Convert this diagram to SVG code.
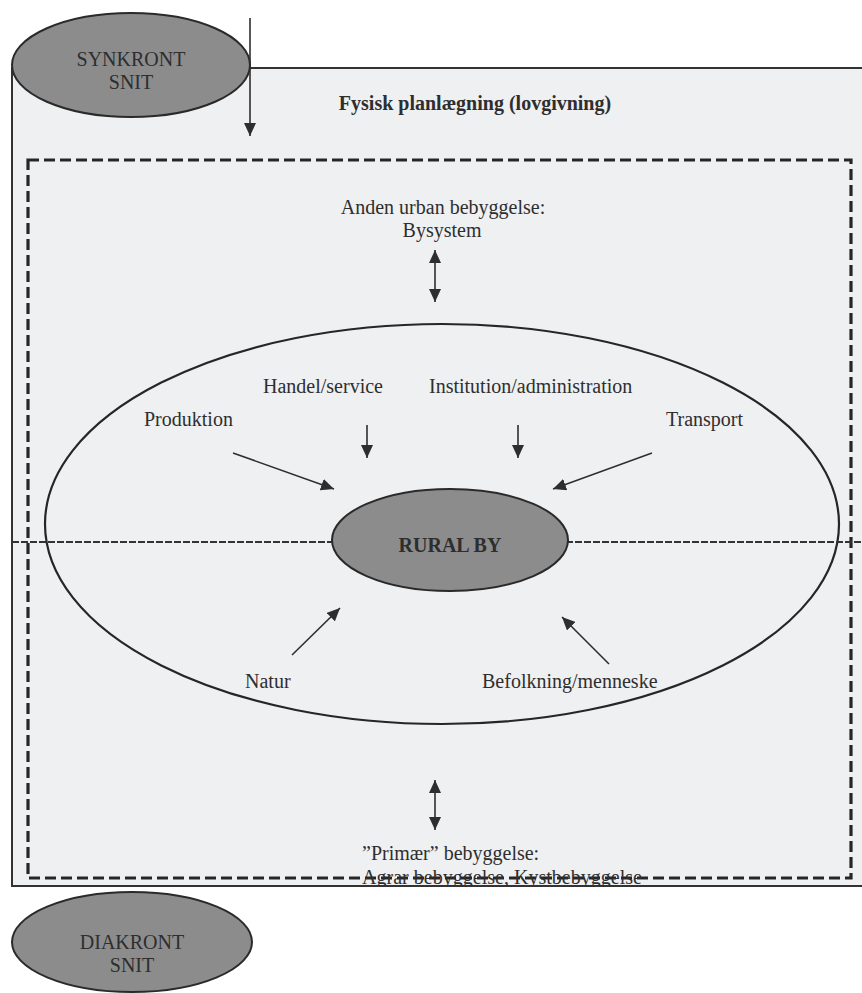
<svg xmlns="http://www.w3.org/2000/svg" width="862" height="993" viewBox="0 0 862 993">
<style>
text{font-family:"Liberation Serif","Times New Roman",serif;font-size:20px;fill:#2e2e2e}
.b{font-weight:bold}
.c{text-anchor:middle}
.arr{stroke:#2e2e2e;stroke-width:1.6;fill:none;marker-end:url(#ah)}
.dbl{stroke:#2e2e2e;stroke-width:1.6;fill:none;marker-end:url(#ah);marker-start:url(#ah)}
.dark{fill:#8c8c8c;stroke:#2a2a2a;stroke-width:2}
</style>
<defs>
<marker id="ah" markerUnits="userSpaceOnUse" markerWidth="14" markerHeight="12" refX="13" refY="6" orient="auto-start-reverse">
<path d="M0,0 L13,6 L0,12 z" fill="#2e2e2e"/>
</marker>
<clipPath id="boxclip"><rect x="0" y="0" width="862" height="886"/></clipPath>
</defs>
<rect width="862" height="993" fill="#ffffff"/>
<g id="frame">
<rect x="12" y="68" width="860" height="818" fill="#eff0f2" stroke="#333" stroke-width="2"/>
<text class="b" x="475" y="110" text-anchor="middle">Fysisk planlægning (lovgivning)</text>
</g>
<g id="dashedbox">
<rect x="28" y="160" width="823" height="718" fill="none" stroke="#262626" stroke-width="3.2" stroke-dasharray="11 5"/>
</g>
<g id="outer-ellipse">
<ellipse cx="442" cy="524" rx="397" ry="200" fill="none" stroke="#262626" stroke-width="2.2"/>
</g>
<g id="axis">
<line x1="12" y1="542" x2="335" y2="542" stroke="#333" stroke-width="1.8" stroke-dasharray="7 2"/>
<line x1="566" y1="542" x2="862" y2="542" stroke="#333" stroke-width="1.8" stroke-dasharray="7 2"/>
</g>
<g id="synkront">
<ellipse class="dark" cx="131" cy="65" rx="119" ry="52"/>
<text class="c" x="131" y="66">SYNKRONT</text>
<text class="c" x="131" y="89">SNIT</text>
</g>
<g id="diakront">
<ellipse class="dark" cx="132" cy="942" rx="120" ry="50"/>
<text class="c" x="132" y="949">DIAKRONT</text>
<text class="c" x="132" y="972">SNIT</text>
</g>
<g id="rural-by">
<ellipse class="dark" cx="450" cy="540" rx="118" ry="51"/>
<text class="b c" x="450" y="552">RURAL BY</text>
</g>
<g id="anden-urban">
<text class="c" x="443" y="214">Anden urban bebyggelse:</text>
<text class="c" x="442" y="237">Bysystem</text>
</g>
<g id="primaer">
<text x="362" y="860">”Primær” bebyggelse:</text>
<text x="362" y="884" clip-path="url(#boxclip)" textLength="280">Agrar bebyggelse, Kystbebyggelse</text>
</g>
<g id="handel"><text x="263" y="393">Handel/service</text></g>
<g id="institution"><text x="429" y="393">Institution/administration</text></g>
<g id="produktion"><text x="144" y="426">Produktion</text></g>
<g id="transport"><text x="666" y="426">Transport</text></g>
<g id="natur"><text x="245" y="688">Natur</text></g>
<g id="befolkning"><text x="482" y="688">Befolkning/menneske</text></g>
<g id="connectors">
<line class="arr" x1="250" y1="18" x2="250" y2="136"/>
<line class="dbl" x1="435" y1="250" x2="435" y2="302"/>
<line class="dbl" x1="435" y1="780" x2="435" y2="830"/>
<line class="arr" x1="367" y1="425" x2="367" y2="458"/>
<line class="arr" x1="518" y1="425" x2="518" y2="458"/>
<line class="arr" x1="233" y1="453" x2="334" y2="489"/>
<line class="arr" x1="652" y1="453" x2="553" y2="489"/>
<line class="arr" x1="292" y1="655" x2="340" y2="608"/>
<line class="arr" x1="609" y1="664" x2="562" y2="617"/>
</g>
</svg>
